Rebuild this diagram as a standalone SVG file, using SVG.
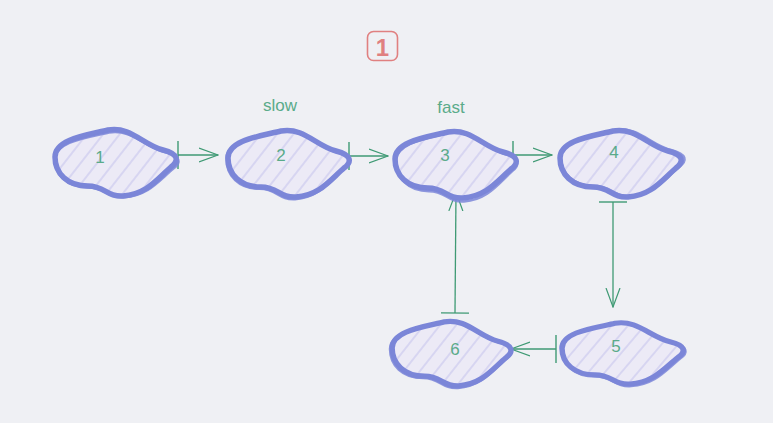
<svg xmlns="http://www.w3.org/2000/svg" width="773" height="423" viewBox="0 0 773 423">
<defs>
<pattern id="hatch" width="13" height="13" patternUnits="userSpaceOnUse" patternTransform="rotate(38)">
<rect width="13" height="13" fill="#eceaf6"/>
<line x1="3" y1="0" x2="3" y2="13" stroke="#d2d0f0" stroke-width="1.6"/>
</pattern>
<path id="blob" d="M -58,-2 C -58,-20 -25,-24 -5,-29 C 18,-33 30,-14 50,-9 C 66,-5 66,2 58,8 C 44,20 34,35 10,37 C -6,38 -8,27 -25,27 C -46,27 -58,14 -58,-2 Z"/>
<marker id="arr" viewBox="0 0 20 16" refX="19" refY="8" markerWidth="20" markerHeight="16" markerUnits="userSpaceOnUse" orient="auto">
<path d="M 0,1 L 19,8 L 0,15" fill="none" stroke="#3f9a74" stroke-width="1.2"/>
</marker>
<marker id="tee" viewBox="0 0 4 28" refX="2" refY="14" markerWidth="4" markerHeight="28" markerUnits="userSpaceOnUse" orient="auto">
<line x1="2" y1="0" x2="2" y2="28" stroke="#3f9a74" stroke-width="1.4"/>
</marker>
</defs>
<style>
.bg{fill:#eff0f4}
.shape{fill:url(#hatch);stroke:#7b86d8;stroke-width:5.5;stroke-linejoin:round}
.shape2{fill:none;stroke:#7b86d8;stroke-width:2.5;opacity:0.85}
.num{font-family:"Liberation Sans",Arial,sans-serif;font-size:17px;fill:#5aab8a;text-anchor:middle}
.lbl{font-family:"Liberation Sans",Arial,sans-serif;font-size:17px;fill:#5aab8a;text-anchor:middle}
.edge{fill:none;stroke:#3f9a74;stroke-width:1.3;marker-start:url(#tee);marker-end:url(#arr)}
</style>
<rect class="bg" width="773" height="423"/>
<g id="badge">
<rect x="367.5" y="31.5" width="30" height="29" rx="6" fill="none" stroke="#e08080" stroke-width="1.6"/>
<text x="382.5" y="55.5" font-family="Liberation Sans,Arial,sans-serif" font-size="24" font-weight="bold" fill="#e08080" text-anchor="middle">1</text>
</g>
<g id="connectors">
<path class="edge" d="M 178,155 L 218,155"/>
<path class="edge" d="M 349,156 L 388,156"/>
<path class="edge" d="M 513,155 L 552,155"/>
<path class="edge" d="M 613,202 L 613,307"/>
<path class="edge" d="M 556,349 L 511,349"/>
<path class="edge" d="M 455,313 L 456,192"/>
</g>
<g id="node1" transform="translate(113,159)">
<use href="#blob" class="shape"/>
<use href="#blob" class="shape2" transform="translate(1,2) scale(1.02,0.98)"/>
<text class="num" x="-13" y="4">1</text>
</g>
<g id="node2" transform="translate(286,160)">
<use href="#blob" class="shape"/>
<use href="#blob" class="shape2" transform="translate(-1,1) scale(1.01,1.03)"/>
<text class="num" x="-5" y="1">2</text>
</g>
<g id="label-slow"><text class="lbl" x="280" y="111">slow</text></g>
<g id="node3" transform="translate(453,161)">
<use href="#blob" class="shape"/>
<use href="#blob" class="shape2" transform="translate(1,2) scale(1.0,1.04)"/>
<text class="num" x="-8" y="0">3</text>
</g>
<g id="label-fast"><text class="lbl" x="451" y="113">fast</text></g>
<g id="node4" transform="translate(618,160)">
<use href="#blob" class="shape"/>
<use href="#blob" class="shape2" transform="translate(2,-1) scale(1.02,1.0)"/>
<text class="num" x="-4" y="-2">4</text>
</g>
<g id="node5" transform="translate(620,350)">
<use href="#blob" class="shape" transform="scale(1,0.92)"/>
<use href="#blob" class="shape2" transform="translate(1,1) scale(1.02,0.95)"/>
<text class="num" x="-4" y="2">5</text>
</g>
<g id="node6" transform="translate(449,350)">
<use href="#blob" class="shape" transform="scale(0.98,0.97)"/>
<use href="#blob" class="shape2" transform="translate(-1,1) scale(1.0,1.0)"/>
<text class="num" x="6" y="5">6</text>
</g>
</svg>
